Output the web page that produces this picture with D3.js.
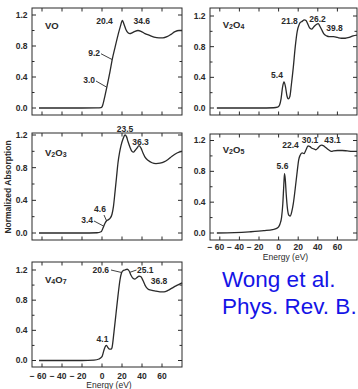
<!DOCTYPE html>
<html><head><meta charset="utf-8">
<script src="https://cdn.jsdelivr.net/npm/d3@7"></script>
<style>
html,body{margin:0;padding:0;background:#fff;}
svg{display:block;}
text{font-family:"Liberation Sans",Arial,sans-serif;}
</style></head>
<body>
<svg id="chart" width="358" height="389"></svg>
<script>
// ---------- data ----------
const panelNames = ["VO", "V2O4", "V2O3", "V2O5", "V4O7"];
const panelTitles = [["V","O"], ["V","2","O","4"], ["V","2","O","3"], ["V","2","O","5"], ["V","4","O","7"]];
const titleAbs = [1.02, 1.045, 0.943, 1.038, 1.034];

const xTickValues = [-60, -40, -20, 0, 20, 40, 60];
const xTickLabels = ["\u2212 60", "\u2212 40", "\u2212 20", "0", "20", "40", "60"];
const yTickValues = [0, 0.4, 0.8, 1.2];
const yTickLabels = ["0.0", "0.4", "0.8", "1.2"];
const yMinorTicks = [0.2, 0.6, 1.0];
const xLabel = "Energy (eV)";
const yLabel = "Normalized Absorption";
const citation = ["Wong et al.", "Phys. Rev. B."];

const energyVO = [-63, -40, -20, -5, -1, 0, 1, 3, 5, 8, 10.3, 13, 16, 18.5, 20.4, 22, 24, 26, 28, 30, 33, 36, 39, 43, 47, 52, 57, 61, 65, 69, 73, 77, 80];
const absVO    = [0, 0, 0, 0.002, 0.006, 0.015, 0.05, 0.16, 0.28, 0.47, 0.63, 0.78, 0.94, 1.06, 1.13, 1.08, 1.01, 0.97, 0.96, 0.97, 0.99, 1.0, 0.99, 0.96, 0.94, 0.915, 0.905, 0.905, 0.92, 0.95, 0.985, 1.0, 1.0];

const energyV2O4 = [-63, -40, -20, -5, -1, 1, 2.5, 4, 5.5, 7, 8.5, 10, 11.5, 13, 15, 17, 19, 21, 21.8, 24, 26.2, 28, 30, 32, 34, 36, 38.5, 40.5, 42, 44, 46, 49, 52, 56, 60, 64, 68, 72, 76, 80];
const absV2O4    = [0, 0, 0, 0.003, 0.01, 0.04, 0.12, 0.27, 0.34, 0.28, 0.16, 0.12, 0.15, 0.3, 0.53, 0.8, 1.0, 1.09, 1.11, 1.13, 1.15, 1.14, 1.09, 1.04, 1.03, 1.06, 1.09, 1.1, 1.07, 1.02, 0.97, 0.94, 0.93, 0.93, 0.92, 0.91, 0.91, 0.92, 0.94, 0.95];

const energyV2O3 = [-63, -40, -20, -5, -1, 1, 3, 4.6, 6, 8, 10, 11.5, 13, 14.5, 16, 17.5, 19, 21, 23, 24.5, 26, 28, 30, 31.5, 33, 35, 37, 39, 41, 43, 46, 50, 54, 58, 62, 66, 70, 75, 80];
const absV2O3    = [0, 0, 0, 0.003, 0.015, 0.06, 0.12, 0.15, 0.16, 0.18, 0.23, 0.33, 0.5, 0.68, 0.86, 0.98, 1.07, 1.15, 1.2, 1.18, 1.12, 1.05, 1.0, 0.99, 1.01, 1.04, 1.07, 1.04, 0.98, 0.93, 0.89, 0.86, 0.85, 0.855, 0.87, 0.9, 0.94, 0.98, 1.0];

const energyV2O5 = [-63, -45, -30, -15, -6, -2, 0, 1.5, 3, 4.3, 5.3, 6, 6.8, 7.8, 9, 10.5, 12, 13.5, 15, 17, 19, 20.5, 22, 24, 26, 28, 30, 32, 34, 36, 38, 40, 42, 44, 46, 48, 51, 54, 56, 60, 65, 70, 75, 80];
const absV2O5    = [0, 0.005, 0.015, 0.03, 0.045, 0.06, 0.08, 0.12, 0.2, 0.38, 0.62, 0.77, 0.7, 0.5, 0.32, 0.23, 0.22, 0.28, 0.38, 0.58, 0.8, 0.95, 1.01, 1.04, 1.03, 1.08, 1.13, 1.12, 1.1, 1.09, 1.08, 1.1, 1.13, 1.14, 1.13, 1.11, 1.08, 1.06, 1.065, 1.07, 1.07, 1.065, 1.06, 1.06];

const energyV4O7 = [-63, -40, -20, -8, -3, 0, 2, 3.5, 4.5, 6, 7.5, 9, 10, 12, 14, 16, 18, 19.5, 21, 23, 25.1, 27, 29, 31, 33, 35, 37, 39, 41, 43, 45, 47, 50, 54, 58, 62, 66, 70, 74, 77, 80];
const absV4O7    = [0, 0, 0, 0.005, 0.02, 0.05, 0.14, 0.19, 0.2, 0.17, 0.15, 0.15, 0.17, 0.38, 0.62, 0.86, 1.07, 1.16, 1.19, 1.2, 1.21, 1.19, 1.13, 1.09, 1.08, 1.1, 1.12, 1.11, 1.06, 1.0, 0.96, 0.94, 0.93, 0.92, 0.91, 0.91, 0.93, 0.96, 0.99, 1.01, 1.03];

const seriesEnergy = [energyVO, energyV2O4, energyV2O3, energyV2O5, energyV4O7];
const seriesAbs = [absVO, absV2O4, absV2O3, absV2O5, absV4O7];

// peak annotations: text, energy, absorption (baseline), anchor
const notesVO   = [["20.4", 2.5, 1.084, "middle"], ["34.6", 39.7, 1.084, "middle"], ["9.2", -2, 0.67, "end"], ["3.0", -7, 0.32, "end"]];
const notesV2O4 = [["21.8", 11.1, 1.097, "middle"], ["26.2", 39.7, 1.12, "middle"], ["39.8", 57, 1.006, "middle"], ["5.4", -1.6, 0.387, "middle"]];
const notesV2O3 = [["23.5", 23, 1.237, "middle"], ["36.3", 38.5, 1.077, "middle"], ["4.6", -2, 0.257, "middle"], ["3.4", -9, 0.122, "end"]];
const notesV2O5 = [["22.4", 12.1, 1.103, "middle"], ["30.1", 32, 1.168, "middle"], ["43.1", 55, 1.168, "middle"], ["5.6", 4, 0.83, "middle"]];
const notesV4O7 = [["20.6", 7, 1.154, "end"], ["25.1", 35, 1.16, "start"], ["36.8", 57, 1.008, "middle"], ["4.1", 0.5, 0.245, "middle"]];
const seriesNotes = [notesVO, notesV2O4, notesV2O3, notesV2O5, notesV4O7];

// leader lines: x1, y1, x2, y2 (energy, absorption)
const leadersVO   = [[-1, 0.70, 10, 0.626], [-6, 0.348, 4.5, 0.27]];
const leadersV2O4 = [];
const leadersV2O3 = [[2, 0.22, 4.5, 0.15], [-8, 0.147, 1.5, 0.085]];
const leadersV2O5 = [];
const leadersV4O7 = [[9, 1.2, 19.5, 1.167], [34.5, 1.2, 28, 1.17]];
const seriesLeaders = [leadersVO, leadersV2O4, leadersV2O3, leadersV2O5, leadersV4O7];

// ---------- layout ----------
const frames = [
  {left: 32,  right: 182, top: 8,   bottom: 115, y0: 108,   y12: 15,    xAxis: false},
  {left: 210, right: 357, top: 8,   bottom: 115, y0: 108,   y12: 16,    xAxis: false},
  {left: 32,  right: 182, top: 133, bottom: 240, y0: 233,   y12: 135,   xAxis: false},
  {left: 210, right: 357, top: 134, bottom: 240, y0: 233,   y12: 140.5, xAxis: true, tickBase: 250, labelBase: 260},
  {left: 32,  right: 182, top: 262, bottom: 367, y0: 360.5, y12: 270,   xAxis: true, tickBase: 379, labelBase: 388}
];
const ink = "#2a2a2a";
const svg = d3.select("#chart");

frames.forEach((f, i) => {
  const x = d3.scaleLinear().domain([-70, 80]).range([f.left, f.right]);
  const y = d3.scaleLinear().domain([0, 1.2]).range([f.y0, f.y12]);
  const g = svg.append("g");

  g.append("rect").attr("x", f.left).attr("y", f.top)
    .attr("width", f.right - f.left).attr("height", f.bottom - f.top)
    .attr("fill", "none").attr("stroke", ink).attr("stroke-width", 1);

  const yt = g.append("g");
  yTickValues.forEach(v => {
    yt.append("line").attr("x1", f.left).attr("x2", f.left + 4).attr("y1", y(v)).attr("y2", y(v));
    yt.append("line").attr("x1", f.right).attr("x2", f.right - 4).attr("y1", y(v)).attr("y2", y(v));
  });
  yMinorTicks.forEach(v => {
    yt.append("line").attr("x1", f.left).attr("x2", f.left + 2.5).attr("y1", y(v)).attr("y2", y(v));
    yt.append("line").attr("x1", f.right).attr("x2", f.right - 2.5).attr("y1", y(v)).attr("y2", y(v));
  });
  xTickValues.forEach(v => {
    yt.append("line").attr("x1", x(v)).attr("x2", x(v)).attr("y1", f.bottom).attr("y2", f.bottom - 3.5);
    yt.append("line").attr("x1", x(v)).attr("x2", x(v)).attr("y1", f.top).attr("y2", f.top + 3.5);
  });
  yt.selectAll("line").attr("stroke", ink).attr("stroke-width", 1);

  g.selectAll(".ylab").data(yTickValues).enter().append("text")
    .attr("x", f.left - 4.5).attr("y", d => y(d)).attr("dy", "0.35em")
    .attr("text-anchor", "end").attr("font-size", 8.5).attr("font-weight", "bold")
    .attr("fill", ink).text((d, k) => yTickLabels[k]);

  if (f.xAxis) {
    g.selectAll(".xlab").data(xTickValues).enter().append("text")
      .attr("x", d => d < 0 ? x(d) + 4.5 : x(d)).attr("y", f.tickBase)
      .attr("text-anchor", d => d < 0 ? "end" : "middle")
      .attr("font-size", 8.5).attr("font-weight", "bold").attr("fill", ink)
      .text((d, k) => xTickLabels[k]);
    g.append("text").attr("x", (f.left + f.right) / 2 + 2).attr("y", f.labelBase)
      .attr("text-anchor", "middle").attr("font-size", 8.5).attr("fill", ink).text(xLabel);
  }

  const pts = seriesEnergy[i].map((e, k) => [e, seriesAbs[i][k]]);
  g.append("path").datum(pts)
    .attr("d", d3.line().x(d => x(d[0])).y(d => y(d[1])).curve(d3.curveMonotoneX))
    .attr("fill", "none").attr("stroke", ink).attr("stroke-width", 1.3);

  const t = g.append("text").attr("x", x(-57)).attr("y", y(titleAbs[i]))
    .attr("font-size", 9.5).attr("font-weight", "bold").attr("fill", ink);
  panelTitles[i].forEach(s => {
    if (/\d/.test(s)) t.append("tspan").attr("font-size", 7).attr("baseline-shift", "-20%").text(s);
    else t.append("tspan").text(s);
  });

  seriesNotes[i].forEach(n => {
    g.append("text").attr("x", x(n[1])).attr("y", y(n[2])).attr("text-anchor", n[3])
      .attr("font-size", 8.5).attr("font-weight", "bold").attr("fill", ink).text(n[0]);
  });
  seriesLeaders[i].forEach(l => {
    g.append("line").attr("x1", x(l[0])).attr("y1", y(l[1])).attr("x2", x(l[2])).attr("y2", y(l[3]))
      .attr("stroke", ink).attr("stroke-width", 0.9);
  });
});

svg.append("text").attr("transform", "translate(11,187) rotate(-90)")
  .attr("text-anchor", "middle").attr("font-size", 8.5).attr("font-weight", "bold")
  .attr("fill", ink).text(yLabel);

svg.selectAll(".cite").data(citation).enter().append("text")
  .attr("x", 222).attr("y", (d, k) => 287 + k * 27)
  .attr("font-size", 22.5).attr("fill", "#1414e6").text(d => d);
</script>
</body></html>
